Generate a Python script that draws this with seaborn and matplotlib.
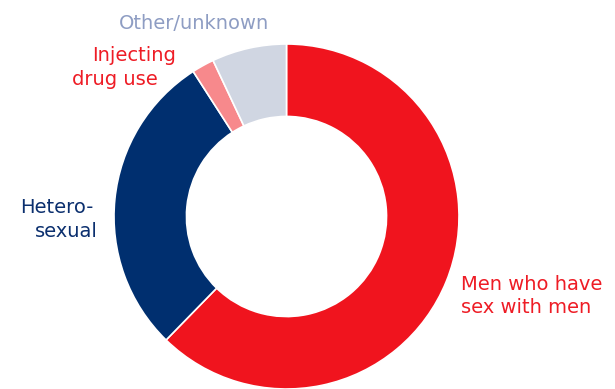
import matplotlib
matplotlib.use("Agg")
import matplotlib.pyplot as plt
import seaborn as sns

# Share of cases by transmission route (percent), clockwise from 12 o'clock
categories = ["Men who have sex with men", "Heterosexual", "Injecting drug use", "Other/unknown"]
shares = [62.3, 28.6, 2.1, 7.0]
colors = ["#F0141E", "#002F6F", "#F7898C", "#D0D6E2"]

sns.set_theme(style="white")
plt.rcParams["font.family"] = ["DejaVu Sans"]

W, H = 615, 389
fig = plt.figure(figsize=(W / 100, H / 100), dpi=100)
fig.patch.set_facecolor("white")

cx, cy, r = 286.5, 216.5, 172.5
ax = fig.add_axes([(cx - r) / W, (H - cy - r) / H, 2 * r / W, 2 * r / H])
ax.pie(shares, colors=colors, startangle=90, counterclock=False, radius=1,
       wedgeprops=dict(width=0.42, edgecolor="white", linewidth=1.2))
ax.set_xlim(-1, 1)
ax.set_ylim(-1, 1)
ax.set_aspect("equal")
ax.axis("off")

def label(x, y, s, color, ha="left"):
    fig.text(x / W, 1 - y / H, s, color=color, fontsize=14, ha=ha, va="baseline")

label(194, 29, "Other/unknown", "#8E9DC3", ha="center")
label(92, 61, "Injecting", "#EE1C25")
label(72, 85, "drug use", "#EE1C25")
label(20, 213, "Hetero-", "#0B2F6E")
label(35, 237, "sexual", "#0B2F6E")
label(461, 290, "Men who have", "#EE1C25")
label(461, 313, "sex with men", "#EE1C25")

fig.savefig("out.png", dpi=100, facecolor="white")
